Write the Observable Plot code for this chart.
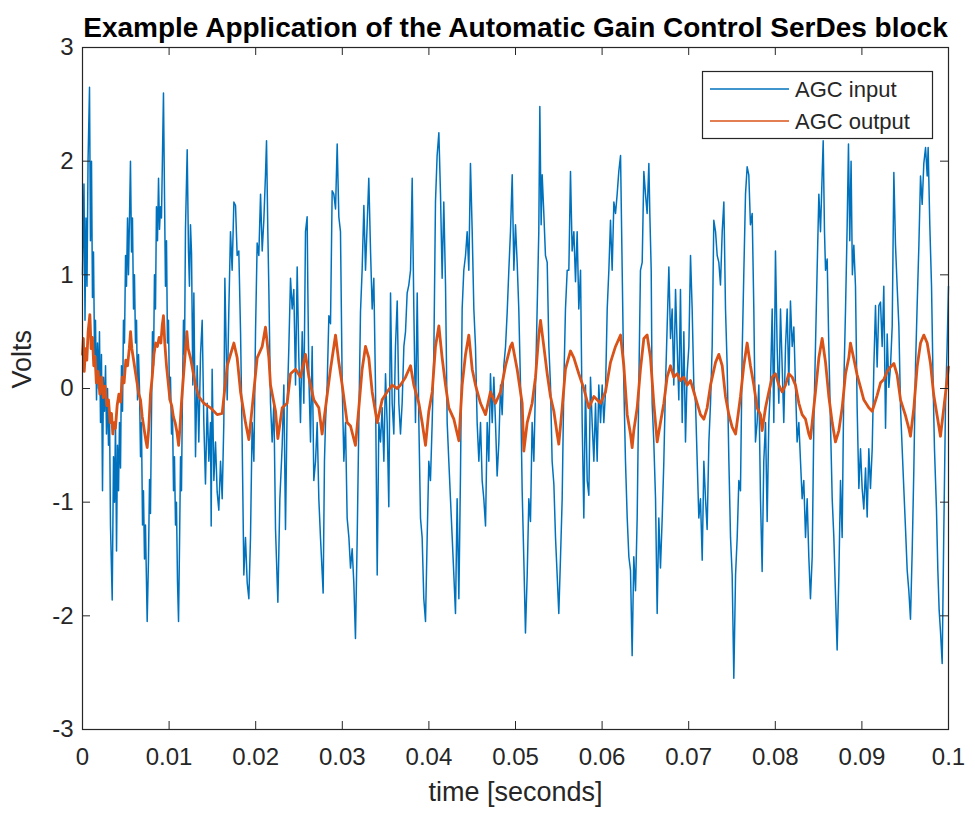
<!DOCTYPE html>
<html><head><meta charset="utf-8">
<script src="https://cdn.jsdelivr.net/npm/d3@7"></script>
<script src="https://cdn.jsdelivr.net/npm/@observablehq/plot@0.6"></script>
<style>body{margin:0;background:#fff}#chart{width:975px;height:817px}</style>
</head><body><div id="chart"></div>
<script>
const titleText = "Example Application of the Automatic Gain Control SerDes block";
const xLabel = "time [seconds]";
const yLabel = "Volts";
const seriesNames = ["AGC input", "AGC output"];
const seriesColors = ["#0072BD", "#D95319"];
const xTicks = [0, 0.01, 0.02, 0.03, 0.04, 0.05, 0.06, 0.07, 0.08, 0.09, 0.1];
const yTicks = [-3, -2, -1, 0, 1, 2, 3];

// AGC input: time in milliseconds, value in volts
const inputTimeMs = [0.00,0.17,0.29,0.40,0.52,0.64,0.81,0.92,1.04,1.15,1.27,1.39,1.50,1.62,1.73,1.85,1.96,2.08,2.19,2.31,2.42,2.54,2.66,2.77,2.89,3.00,3.12,3.23,3.43,3.58,3.70,3.81,3.93,4.04,4.16,4.27,4.39,4.50,4.62,4.73,4.85,4.97,5.08,5.20,5.31,5.54,5.66,5.77,5.89,6.00,6.12,6.24,6.35,6.47,6.58,6.70,6.81,6.93,7.04,7.16,7.27,7.47,7.62,7.74,7.85,7.97,8.08,8.20,8.31,8.43,8.54,8.66,8.78,8.89,9.01,9.12,9.35,9.47,9.58,9.70,9.81,9.93,10.05,10.16,10.28,10.39,10.51,10.62,10.74,10.85,10.97,11.09,11.20,11.32,11.43,11.55,11.66,11.78,11.89,12.09,12.24,12.35,12.47,12.59,12.74,12.86,13.05,13.24,13.43,13.63,13.82,14.01,14.20,14.40,14.59,14.78,14.86,14.97,15.17,15.36,15.55,15.74,15.94,16.13,16.32,16.44,16.59,16.71,16.90,17.09,17.28,17.48,17.67,17.86,18.05,18.25,18.44,18.63,18.82,19.02,19.21,19.40,19.59,19.79,19.98,20.17,20.36,20.56,20.75,20.94,21.13,21.25,21.40,21.52,21.71,21.90,22.10,22.29,22.56,22.79,23.06,23.25,23.44,23.63,23.83,24.02,24.21,24.40,24.60,24.79,24.98,25.17,25.37,25.56,25.75,25.94,26.02,26.14,26.33,26.52,26.71,26.91,27.10,27.29,27.48,27.79,27.94,28.06,28.25,28.45,28.64,28.83,29.02,29.22,29.41,29.60,29.79,29.99,30.18,30.37,30.56,30.76,30.95,31.14,31.33,31.52,31.72,31.91,32.10,32.29,32.49,32.68,32.87,33.06,33.26,33.45,33.64,33.83,34.03,34.22,34.41,34.60,34.80,34.99,35.18,35.37,35.57,35.76,35.95,36.14,36.34,36.53,36.72,36.91,37.11,37.30,37.49,37.68,37.88,38.07,38.26,38.45,38.65,38.84,39.03,39.22,39.41,39.61,39.80,39.99,40.18,40.38,40.57,40.76,40.95,41.15,41.34,41.53,41.72,41.92,42.11,42.30,42.49,42.69,42.88,43.07,43.26,43.46,43.65,43.84,44.03,44.23,44.42,44.61,44.80,45.00,45.19,45.38,45.57,45.77,45.96,46.15,46.34,46.54,46.73,46.92,47.11,47.31,47.50,47.69,47.88,48.08,48.27,48.46,48.65,48.85,49.04,49.23,49.42,49.62,49.81,50.00,50.19,50.38,50.58,50.77,50.96,51.15,51.35,51.54,51.73,51.92,52.12,52.31,52.50,52.69,52.81,52.96,53.08,53.27,53.46,53.66,53.85,54.04,54.23,54.43,54.62,54.81,55.00,55.20,55.39,55.58,55.77,55.97,56.16,56.35,56.54,56.74,56.93,57.12,57.31,57.51,57.70,57.89,58.08,58.28,58.47,58.66,58.85,59.05,59.24,59.43,59.62,59.82,60.01,60.20,60.39,60.59,60.78,60.97,61.16,61.36,61.55,61.74,61.93,62.13,62.32,62.51,62.70,62.90,63.09,63.28,63.47,63.66,63.86,64.05,64.24,64.43,64.63,64.82,65.01,65.20,65.40,65.51,65.67,65.78,65.97,66.17,66.36,66.55,66.74,66.94,67.13,67.32,67.51,67.71,67.90,68.09,68.28,68.48,68.67,68.86,69.05,69.25,69.44,69.63,69.82,70.02,70.21,70.40,70.59,70.79,70.98,71.17,71.36,71.56,71.75,71.94,72.13,72.33,72.52,72.71,72.90,73.10,73.29,73.48,73.67,73.87,74.06,74.25,74.44,74.64,74.83,75.02,75.21,75.41,75.60,75.79,75.98,76.17,76.36,76.56,76.75,76.94,77.13,77.33,77.52,77.71,77.90,78.10,78.29,78.48,78.67,78.87,79.06,79.25,79.44,79.64,79.83,80.02,80.21,80.41,80.60,80.79,80.98,81.18,81.37,81.56,81.75,81.95,82.14,82.33,82.52,82.72,82.91,83.10,83.29,83.49,83.68,83.87,84.06,84.26,84.45,84.64,84.83,85.03,85.22,85.41,85.53,85.68,85.80,85.99,86.18,86.37,86.57,86.76,86.95,87.14,87.34,87.53,87.72,87.91,88.11,88.30,88.45,88.60,88.75,88.90,89.07,89.26,89.45,89.65,89.84,90.03,90.22,90.42,90.61,90.80,90.99,91.19,91.38,91.57,91.76,91.96,92.15,92.34,92.53,92.73,92.92,93.11,93.30,93.50,93.69,93.88,94.07,94.27,94.46,94.65,94.84,95.04,95.23,95.42,95.61,95.81,96.00,96.19,96.38,96.58,96.77,96.96,97.15,97.35,97.54,97.65,97.84,98.04,98.23,98.38,98.61,98.77,98.92,99.07,99.27,99.46,99.65,99.84,100.0];
const inputVolts = [1.0,1.8,0.6,1.5,0.9,2.0,2.65,1.3,2.0,0.8,1.2,0.3,0.6,-0.1,0.4,0.0,0.5,-0.3,0.3,-0.9,0.1,-0.2,0.2,-0.4,0.0,-0.5,-0.2,-1.2,-1.86,-0.6,-1.0,-0.3,-1.43,-0.5,-0.9,-0.3,-0.7,0.2,-0.2,0.6,0.4,1.17,0.9,1.5,1.0,2.0,1.2,1.5,0.7,1.0,0.4,0.6,-0.1,0.3,0.0,-0.6,-0.3,-1.2,-0.9,-1.5,-1.2,-2.05,-1.5,-0.8,-1.1,-0.2,0.5,0.2,1.0,0.7,1.6,1.3,1.85,1.4,1.6,1.5,2.6,1.7,0.9,1.3,0.4,0.6,-0.1,0.1,-0.4,-0.2,-0.9,-0.6,-1.2,-1.0,-1.7,-2.05,-1.4,-0.6,-0.9,0.0,0.6,0.3,1.4,2.1,1.2,0.9,1.44,1.19,0.03,0.84,-0.60,0.20,-0.47,0.30,0.60,-0.30,-0.84,-0.13,-0.64,-0.30,-1.21,0.17,-0.81,-0.47,-0.91,-1.07,-0.64,-0.97,-0.30,0.97,0.37,-0.10,0.70,1.38,1.04,1.64,1.61,1.17,1.21,0.50,-0.47,-1.64,-1.31,-1.71,-1.85,-1.31,-0.30,-0.64,0.50,1.28,1.17,1.71,1.21,1.48,1.88,2.18,1.38,0.87,-0.13,-0.47,-0.13,-1.24,-1.88,-0.97,-0.50,0.03,-1.24,-0.17,0.37,0.97,0.70,0.87,0.03,1.07,0.27,-0.30,0.50,-0.13,1.38,1.51,0.87,0.10,-0.47,0.37,-0.81,-0.64,-0.30,-0.97,-1.31,-1.80,-0.64,-0.30,0.03,0.64,0.57,1.74,1.71,1.58,2.15,1.51,1.38,0.03,-0.64,-0.30,-1.14,-1.31,-1.58,-1.41,-1.71,-2.2,-1.31,-0.30,0.67,1.04,1.61,1.04,1.44,1.85,1.21,0.70,0.97,0.03,-1.64,-0.30,-0.47,-0.17,-0.64,0.13,-0.30,-1.04,0.84,-0.13,-0.40,0.37,0.77,-0.13,-0.40,-0.13,0.37,0.50,0.84,0.91,1.04,1.85,0.70,-0.30,0.84,-0.30,-1.14,-1.31,-1.85,-2.05,-1.31,-0.64,-0.81,-0.30,0.30,1.64,2.05,2.25,1.71,0.97,1.64,0.91,-0.30,-0.64,-0.97,-1.31,-1.64,-1.98,-0.97,-1.85,-0.74,0.70,1.04,1.17,1.38,1.04,1.98,1.38,0.70,0.37,-0.30,-0.64,-0.30,-0.81,-0.97,-1.21,-0.30,-0.64,0.13,-0.30,0.10,-0.30,-0.77,-0.47,0.03,-0.23,0.20,0.37,0.67,1.04,1.38,1.88,1.04,1.44,1.11,0.70,0.03,-0.90,-1.50,-2.15,-1.64,-0.97,-1.17,-0.30,-0.64,0.03,0.70,1.38,2.48,1.44,1.88,1.54,1.17,1.11,0.37,0.03,-0.64,-0.84,-1.31,-1.64,-1.98,-1.48,-0.97,0.03,0.70,1.04,1.04,1.91,1.21,1.38,0.94,1.38,0.70,1.04,-0.30,-1.14,0.03,-0.81,-0.94,0.10,-0.30,-0.64,-0.13,-0.64,0.03,-0.30,0.03,-0.30,-0.03,0.70,1.04,1.48,1.04,1.64,1.54,1.71,1.91,2.05,1.04,0.03,-0.64,-1.14,-1.48,-1.60,-2.35,-1.48,-1.78,-1.14,0.03,1.04,1.11,1.91,1.71,1.54,1.98,1.54,1.04,-0.13,-0.47,-0.97,-1.98,-1.14,-1.58,-1.14,-0.64,0.03,0.54,1.07,0.44,0.70,0.03,0.87,0.37,-0.10,0.87,-0.30,0.50,-0.47,0.13,0.37,1.17,0.70,0.03,-0.13,-0.64,-1.14,-0.97,-1.51,-0.64,-0.97,-1.24,-0.47,-0.13,0.37,1.48,1.38,1.17,1.11,0.91,1.38,1.64,0.70,0.20,-0.64,-1.31,-1.64,-2.55,-1.64,-1.31,-0.81,-0.90,0.30,1.00,1.71,1.95,1.88,1.44,1.54,0.70,-0.47,-0.30,0.03,-0.97,-1.61,-0.64,-0.30,-1.17,-0.30,0.03,0.70,-0.30,1.21,0.37,-0.13,0.70,0.20,-0.30,0.37,0.70,0.03,0.77,0.37,0.54,0.03,-0.47,-0.30,-0.64,-0.97,-0.81,-1.31,-0.97,-1.48,-1.85,-1.48,-0.30,0.37,1.04,1.71,1.38,1.88,2.18,1.38,1.04,1.14,0.37,-0.30,-0.97,-1.31,-1.81,-2.30,-1.64,-0.81,-1.31,0.03,0.70,1.44,2.15,1.30,2.00,1.00,1.26,0.90,-0.17,-0.88,-0.53,-0.88,-1.06,-0.70,-1.13,-0.53,-0.88,-0.53,0.19,0.73,0.19,0.73,0.76,0.37,0.90,-0.35,0.48,0.01,0.19,0.55,1.90,1.26,0.90,0.55,-0.17,-0.53,-0.88,-1.24,-1.60,-1.78,-2.03,-1.42,-0.70,0.19,0.73,1.26,1.87,1.62,1.98,2.12,1.87,2.12,1.44,0.90,0.01,-0.53,-1.06,-1.60,-1.95,-2.13,-2.42,-1.24,-0.17,0.37,0.90];

// AGC output: time in milliseconds, value in volts
const outputTimeMs = [0.00,0.10,0.20,0.35,0.50,0.65,0.85,1.00,1.15,1.30,1.45,1.60,1.80,2.00,2.20,2.40,2.60,2.80,3.00,3.20,3.35,3.50,3.65,3.80,4.00,4.20,4.40,4.60,4.80,5.00,5.20,5.40,5.55,5.70,5.90,6.10,6.30,6.50,6.70,6.90,7.10,7.30,7.47,7.65,7.85,8.05,8.25,8.45,8.65,8.85,9.05,9.20,9.35,9.50,9.70,9.90,10.10,10.30,10.50,10.70,10.90,11.10,11.25,11.45,11.65,11.85,12.05,12.20,12.47,13.05,13.43,14.01,14.78,15.55,16.13,16.71,17.48,17.86,18.25,18.82,19.21,19.59,20.17,20.75,21.13,21.52,21.71,22.29,22.56,23.06,23.63,24.02,24.60,25.17,25.75,26.14,26.71,27.29,27.67,28.06,28.64,29.22,29.60,29.99,30.56,30.95,31.52,31.91,32.29,32.68,33.06,33.45,34.03,34.60,35.18,35.76,36.34,36.72,37.30,37.88,38.26,38.84,39.22,39.61,39.99,40.38,40.76,41.15,41.53,41.92,42.30,42.88,43.46,43.84,44.23,44.61,45.00,45.38,45.96,46.54,47.11,47.69,48.27,48.85,49.42,49.62,50.19,50.77,50.96,51.35,51.92,52.31,52.69,52.89,53.27,53.66,54.04,54.43,54.81,55.00,55.39,55.77,56.35,56.74,57.31,57.89,58.47,59.05,59.82,60.39,60.97,61.55,62.13,62.51,62.90,63.28,63.47,63.66,64.05,64.43,64.82,65.20,65.59,65.97,66.36,66.74,67.13,67.51,67.90,68.28,68.67,69.05,69.44,69.82,70.21,70.98,71.36,71.75,72.13,72.52,73.10,73.48,73.87,74.25,74.64,75.02,75.41,75.98,76.36,76.75,77.13,77.52,77.90,78.29,78.48,78.87,79.25,79.64,80.02,80.41,80.79,81.18,81.56,81.95,82.33,82.72,83.10,83.49,83.87,84.06,84.26,84.64,85.03,85.41,85.80,86.18,86.57,86.95,87.34,87.72,88.11,88.49,88.68,89.07,89.45,89.84,90.22,90.80,91.19,91.76,92.15,92.53,92.92,93.30,93.69,94.07,94.46,95.04,95.42,95.61,96.00,96.38,96.77,97.15,97.54,97.92,98.30,98.69,99.07,99.46,99.84,100.0];
const outputVolts = [0.30,0.44,0.15,0.35,0.25,0.50,0.65,0.35,0.45,0.20,0.28,0.05,0.15,-0.05,0.10,-0.08,0.02,-0.15,-0.10,-0.30,-0.22,-0.40,-0.30,-0.35,-0.15,-0.05,-0.12,0.10,0.05,0.25,0.20,0.35,0.50,0.35,0.25,0.15,0.05,-0.05,-0.10,-0.25,-0.35,-0.45,-0.52,-0.35,-0.05,0.10,0.30,0.40,0.37,0.45,0.40,0.55,0.64,0.40,0.20,0.05,-0.10,-0.15,-0.25,-0.30,-0.38,-0.50,-0.35,-0.10,0.10,0.30,0.50,0.35,0.27,0.03,-0.07,-0.13,-0.17,-0.23,-0.22,0.20,0.40,0.27,-0.03,-0.30,-0.45,-0.17,0.27,0.37,0.54,0.27,0.03,-0.20,-0.44,-0.17,-0.13,0.13,0.17,0.10,0.30,0.10,-0.10,-0.17,-0.40,-0.17,0.17,0.47,0.23,0.03,-0.30,-0.33,-0.50,-0.17,0.17,0.37,0.27,-0.03,-0.30,-0.10,-0.03,0.03,0.00,0.03,0.10,0.20,0.03,-0.13,-0.30,-0.50,-0.20,-0.03,0.37,0.55,0.27,0.03,-0.17,-0.27,-0.46,0.03,0.30,0.47,0.17,0.03,-0.13,-0.23,-0.03,-0.13,-0.03,0.20,0.37,0.40,0.17,-0.13,-0.55,-0.30,-0.13,0.10,0.47,0.60,0.37,0.13,-0.07,-0.20,-0.40,-0.49,-0.17,0.17,0.33,0.27,0.13,0.00,-0.17,-0.07,-0.13,-0.03,0.23,0.37,0.47,0.20,-0.23,-0.40,-0.52,-0.37,-0.17,0.17,0.44,0.47,0.27,-0.13,-0.47,-0.30,-0.13,0.10,0.20,0.10,0.13,0.07,0.10,0.03,0.07,-0.13,-0.23,-0.27,-0.17,0.03,0.23,0.30,0.20,-0.07,-0.23,-0.34,-0.40,-0.07,0.20,0.40,0.20,0.03,-0.17,-0.23,-0.37,-0.17,-0.03,0.10,0.13,0.03,-0.03,0.03,0.13,0.10,0.03,-0.13,-0.23,-0.27,-0.40,-0.44,-0.30,-0.03,0.27,0.44,0.23,-0.07,-0.30,-0.47,-0.37,-0.17,0.13,0.27,0.40,0.26,0.12,0.01,-0.10,-0.17,-0.20,-0.06,0.05,0.08,0.15,0.19,0.22,0.12,-0.10,-0.24,-0.35,-0.42,-0.17,0.19,0.40,0.47,0.40,0.22,-0.06,-0.24,-0.42,-0.17,0.08,0.19];

const inputData = inputTimeMs.map((t, i) => ({t: t / 1000, v: inputVolts[i]}));
const outputData = outputTimeMs.map((t, i) => ({t: t / 1000, v: outputVolts[i]}));

const axisColor = "#262626";
const fontFamily = "'Liberation Sans', Arial, Helvetica, sans-serif";
const fmt = d => String(+d.toFixed(2));

const plot = Plot.plot({
  width: 975, height: 817,
  marginLeft: 82, marginRight: 27, marginTop: 47, marginBottom: 88,
  x: {domain: [0, 0.1]},
  y: {domain: [-3, 3]},
  style: {fontFamily, fontSize: "24px", color: axisColor, background: "white", overflow: "visible"},
  marks: [
    Plot.line(inputData, {x: "t", y: "v", stroke: seriesColors[0], strokeWidth: 1.5}),
    Plot.line(outputData, {x: "t", y: "v", stroke: seriesColors[1], strokeWidth: 2.8}),
    Plot.ruleX(xTicks, {stroke: axisColor, insetTop: 674}),
    Plot.ruleX(xTicks, {stroke: axisColor, insetBottom: 674}),
    Plot.ruleY(yTicks, {stroke: axisColor, insetRight: 858}),
    Plot.ruleY(yTicks, {stroke: axisColor, insetLeft: 858}),
    Plot.frame({stroke: axisColor, strokeWidth: 1.2}),
    Plot.axisX(xTicks, {tickSize: 0, tickPadding: 18, tickFormat: fmt, label: null}),
    Plot.axisY(yTicks, {tickSize: 0, tickPadding: 9, tickFormat: fmt, label: null}),
    Plot.text([titleText], {text: d => d, frameAnchor: "top", dy: -30, fontWeight: "bold", fontSize: 28, fill: "black"}),
    Plot.text([xLabel], {text: d => d, frameAnchor: "bottom", dy: 71, fontSize: 27}),
    Plot.text([yLabel], {text: d => d, frameAnchor: "left", dx: -60, rotate: -90, fontSize: 27})
  ]
});

// legend
const svg = d3.select(plot);
const lg = svg.append("g").attr("font-family", fontFamily).attr("font-size", 22)
  .attr("fill", axisColor).attr("text-anchor", "start");
lg.append("rect").attr("x", 702.5).attr("y", 71.5).attr("width", 230).attr("height", 67)
  .attr("fill", "white").attr("stroke", axisColor).attr("stroke-width", 1.2);
seriesNames.forEach((name, i) => {
  const y = 89 + i * 32;
  lg.append("line").attr("x1", 710).attr("x2", 789).attr("y1", y).attr("y2", y)
    .attr("stroke", seriesColors[i]).attr("stroke-width", 1.6);
  lg.append("text").attr("x", 795).attr("y", y).attr("dy", "0.35em")
    .attr("text-anchor", "start").text(name);
});

document.getElementById("chart").appendChild(plot);
</script>
</body></html>
